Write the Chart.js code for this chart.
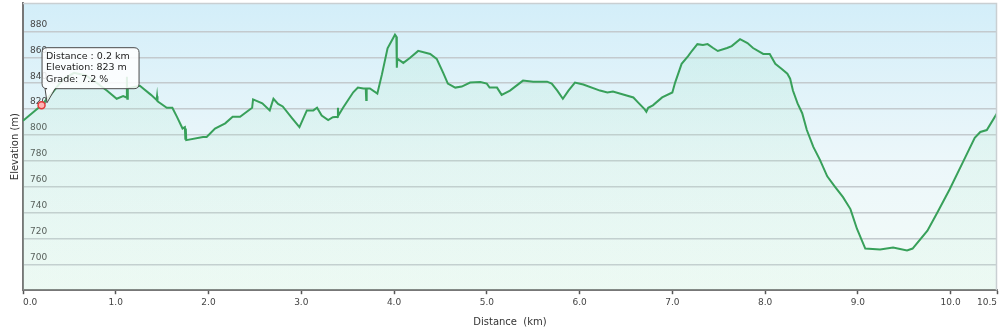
<!DOCTYPE html>
<html><head><meta charset="utf-8">
<script src="https://cdn.jsdelivr.net/npm/chart.js@4.4.1/dist/chart.umd.min.js"></script>
<style>html,body{margin:0;padding:0;background:#fff;overflow:hidden}#wrap{width:1000px;height:332px;position:relative}</style>
</head><body><div id="wrap"><canvas id="c" width="1000" height="332"></canvas></div>
<script>
const distKm = [0.00,0.10,0.20,0.32,0.43,0.55,0.68,0.80,0.91,1.01,1.08,1.115,1.12,1.125,1.13,1.26,1.38,1.44,1.445,1.45,1.55,1.61,1.66,1.72,1.745,1.75,1.755,1.76,1.94,1.98,2.07,2.18,2.26,2.34,2.47,2.48,2.58,2.66,2.70,2.75,2.80,2.90,2.98,3.06,3.13,3.17,3.22,3.29,3.34,3.39,3.395,3.40,3.45,3.56,3.61,3.67,3.695,3.70,3.705,3.74,3.82,3.87,3.93,4.01,4.025,4.03,4.035,4.10,4.17,4.26,4.39,4.46,4.53,4.58,4.66,4.73,4.82,4.93,5.00,5.03,5.11,5.16,5.25,5.39,5.50,5.65,5.70,5.76,5.82,5.88,5.95,6.04,6.22,6.30,6.36,6.47,6.58,6.63,6.70,6.72,6.74,6.79,6.89,7.00,7.03,7.10,7.17,7.21,7.27,7.33,7.38,7.44,7.49,7.59,7.64,7.73,7.81,7.87,7.98,8.05,8.11,8.18,8.24,8.27,8.30,8.35,8.40,8.45,8.52,8.59,8.67,8.75,8.84,8.92,8.99,9.08,9.24,9.38,9.53,9.59,9.75,9.86,9.99,10.13,10.26,10.32,10.39,10.50];
const elevM = [811,817,823,833,843,848,846,840,834,828,830,829,845,828,836,838,831,827,830,826,821,821,814,805,806,797,805,796,798.5,798.5,805,809,814,814,821,827.5,824.4,819,828,824,822,813,806,819,819,821,815,811.5,813.7,814,821,815,821,833,836.6,836,836,827,836,836,832,847,867,877.5,876,852,859,855.7,859.5,865,862.6,858.8,848,839.7,836.6,837.4,840.5,841,839.7,836.6,836.6,831,834.3,842,841.2,841.2,839.7,834.3,828,834.3,840.5,839,834.3,832.8,833.6,831.3,829,825.2,820,818,821,822.9,829,832.8,840.5,855,861,864.9,870.2,869.5,870.2,867.2,864.9,867.2,868.7,874,871,867.2,862.6,862.6,855,851,847.3,843.5,834.3,824.4,816.8,803.8,790.8,780.9,768,760.3,751.9,742.7,727.5,712.2,711.5,713,710.7,712.2,726,740.5,758,778.6,797.7,802.3,803.8,816.8];
const xTickValues = [0,1,2,3,4,5,6,7,8,9,10,10.5];
const yTickValues = [700,720,740,760,780,800,820,840,860,880];
const xAxisTitle = 'Distance  (km)';
const yAxisTitle = 'Elevation (m)';
const markerKm = 0.2;
const markerElev = 823;
const markerGrade = 7.2;

const FONT = 'DejaVu Sans';
const markerIndex = distKm.indexOf(markerKm);

const framePlugin = {
  id: 'frame',
  beforeDraw(chart) {
    const {ctx, chartArea: a} = chart;
    ctx.save();
    ctx.fillStyle = '#ffffff';
    ctx.fillRect(0, 0, chart.width, chart.height);
    const g = ctx.createLinearGradient(0, a.top, 0, a.bottom);
    g.addColorStop(0, '#d3eef9');
    g.addColorStop(0.55, '#ecf7fa');
    g.addColorStop(1, '#f3fbf8');
    ctx.fillStyle = g;
    ctx.fillRect(a.left, a.top, a.right - a.left, a.bottom - a.top);
    ctx.restore();
  },
  afterDraw(chart) {
    const {ctx, chartArea: a} = chart;
    ctx.save();
    ctx.strokeStyle = '#c9cfd2';
    ctx.lineWidth = 1.5;
    ctx.beginPath();
    ctx.moveTo(a.left, a.top + 0.5);
    ctx.lineTo(a.right - 0.5, a.top + 0.5);
    ctx.lineTo(a.right - 0.5, a.bottom);
    ctx.stroke();

    // callout for the highlighted point
    const px = chart.scales.x.getPixelForValue(markerKm);
    const py = chart.scales.y.getPixelForValue(markerElev);
    const bx = px + 0.5, by = py - 57.5, w = 97, h = 41, r = 5;
    const tl = px + 3.5, tr = px + 13.5, tipX = px + 5.5, tipY = py - 2.5;
    ctx.beginPath();
    ctx.moveTo(bx + r, by);
    ctx.lineTo(bx + w - r, by);
    ctx.quadraticCurveTo(bx + w, by, bx + w, by + r);
    ctx.lineTo(bx + w, by + h - r);
    ctx.quadraticCurveTo(bx + w, by + h, bx + w - r, by + h);
    ctx.lineTo(tr, by + h);
    ctx.lineTo(tipX, tipY);
    ctx.lineTo(tl, by + h);
    ctx.lineTo(bx + r, by + h);
    ctx.quadraticCurveTo(bx, by + h, bx, by + h - r);
    ctx.lineTo(bx, by + r);
    ctx.quadraticCurveTo(bx, by, bx + r, by);
    ctx.closePath();
    ctx.fillStyle = 'rgba(255,255,255,0.85)';
    ctx.fill();
    ctx.strokeStyle = '#4a4a4a';
    ctx.lineWidth = 1;
    ctx.stroke();
    ctx.fillStyle = '#222';
    ctx.font = '9.5px "' + FONT + '"';
    ctx.textBaseline = 'middle';
    ctx.textAlign = 'left';
    const lines = [
      'Distance : ' + markerKm.toFixed(1) + ' km',
      'Elevation: ' + markerElev + ' m',
      'Grade: ' + markerGrade.toFixed(1) + ' %'
    ];
    lines.forEach((t, i) => ctx.fillText(t, bx + 4, by + 8.5 + i * 11.6));
    ctx.restore();
  }
};

new Chart(document.getElementById('c'), {
  type: 'line',
  data: {
    datasets: [{
      data: distKm.map((x, i) => ({x: x, y: elevM[i]})),
      borderColor: '#38a05a',
      borderWidth: 2,
      tension: 0,
      fill: 'start',
      backgroundColor: (c) => {
        const a = c.chart.chartArea;
        if (!a) return 'rgba(150,230,190,0.15)';
        const g = c.chart.ctx.createLinearGradient(0, a.top, 0, a.bottom);
        g.addColorStop(0, 'rgba(160,230,195,0.20)');
        g.addColorStop(1, 'rgba(200,242,215,0.15)');
        return g;
      },
      pointRadius: (c) => c.dataIndex === markerIndex ? 3.5 : 0,
      pointHoverRadius: 0,
      pointBackgroundColor: '#ffb4b4',
      pointBorderColor: '#e23a3a',
      pointBorderWidth: 1.5
    }]
  },
  options: {
    responsive: false,
    animation: false,
    devicePixelRatio: 1,
    layout: {padding: {top: 3, right: 3, left: 0, bottom: 0}},
    plugins: {legend: {display: false}, tooltip: {enabled: false}},
    events: [],
    scales: {
      x: {
        type: 'linear', min: 0, max: 10.5,
        afterBuildTicks: (s) => { s.ticks = xTickValues.map(v => ({value: v})); },
        afterFit: (s) => { s.paddingLeft = 0; s.paddingRight = 0; },
        ticks: {autoSkip: false, maxRotation: 0, minRotation: 0, align: 'inner', padding: 3,
          font: {family: FONT, size: 9}, color: '#444',
          callback: (v) => Number(v).toFixed(1)},
        grid: {drawOnChartArea: false, drawTicks: true, tickLength: 4, tickColor: '#555', tickWidth: 1.5},
        border: {display: true, color: '#777', width: 2},
        title: {display: true, text: xAxisTitle, font: {family: FONT, size: 10}, color: '#333', padding: {top: 5, bottom: 4}}
      },
      y: {
        type: 'linear', min: 680, max: 902,
        afterBuildTicks: (s) => { s.ticks = yTickValues.map(v => ({value: v})); },
        afterFit: (s) => { s.paddingTop = 0; s.paddingBottom = 0; s.width = 23; },
        ticks: {mirror: true, padding: 7, labelOffset: -7, font: {family: FONT, size: 9}, color: '#444'},
        grid: {color: '#c3cace', lineWidth: 1.5, drawTicks: false},
        border: {display: true, color: '#777', width: 2},
        title: {display: true, text: yAxisTitle, font: {family: FONT, size: 10}, color: '#333', padding: {top: 9, bottom: 2}}
      }
    }
  },
  plugins: [framePlugin]
});
</script>
</body></html>
